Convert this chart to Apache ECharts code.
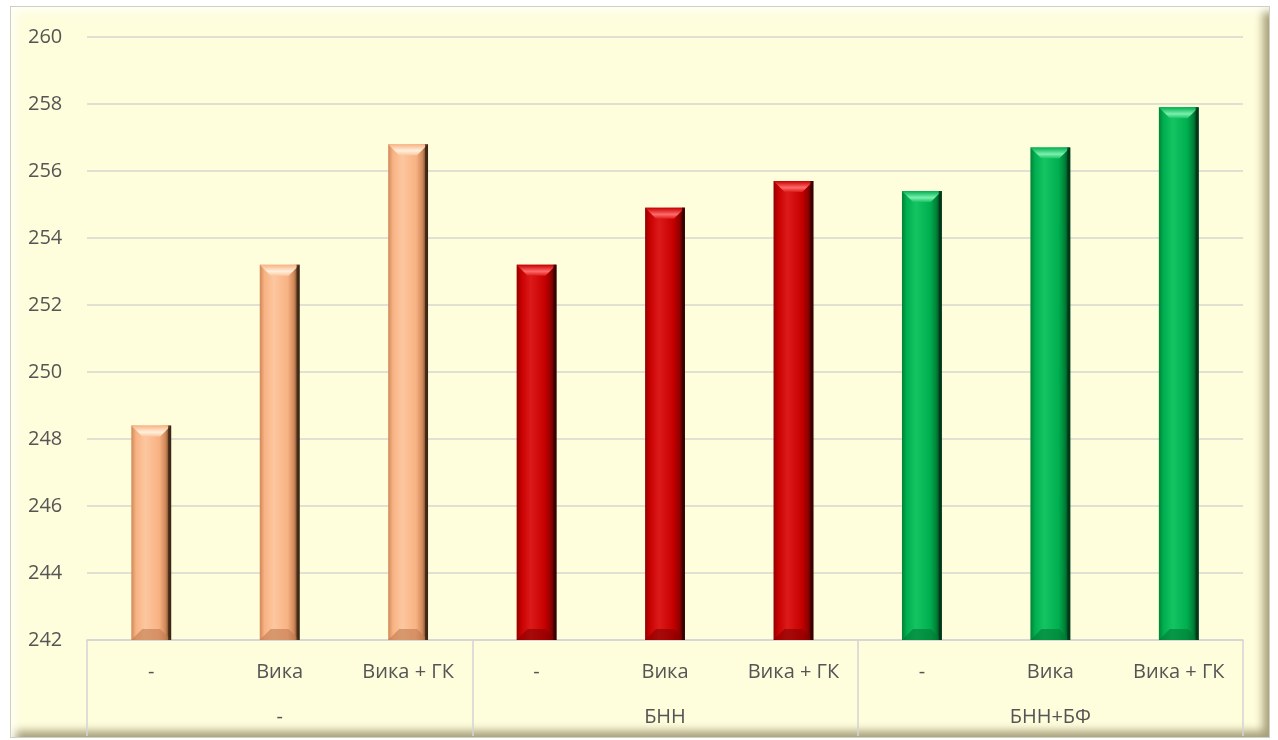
<!DOCTYPE html>
<html>
<head>
<meta charset="utf-8">
<script src="https://cdn.jsdelivr.net/npm/echarts@6/dist/echarts.min.js"></script>
<style>
  html, body { margin: 0; padding: 0; background: #ffffff; }
  #frame {
    position: absolute; left: 10px; top: 6px; width: 1260px; height: 732px;
    background: #FEFDDC; box-sizing: border-box;
    border: 1px solid #cfcfc4;
    box-shadow: inset 9px 9px 8px -4px #fffff4, inset -10px -10px 9px -4px #a89f7c;
  }
  #chart { position: absolute; left: 0; top: 0; width: 1278px; height: 740px; }
</style>
</head>
<body>
<div id="frame"></div>
<div id="chart"></div>
<script>
// Sub-treatment labels (one per bar) and group labels (one per 3 bars)
const categories = ['-', 'Вика', 'Вика + ГК', '-', 'Вика', 'Вика + ГК', '-', 'Вика', 'Вика + ГК'];
const groups = ['-', 'БНН', 'БНН+БФ'];
const values = [248.4, 253.2, 256.8, 253.2, 254.9, 255.7, 255.4, 256.7, 257.9];
const groupOf = [0, 0, 0, 1, 1, 1, 2, 2, 2];
const yTicks = { min: 242, max: 260, interval: 2 };

// Bevel palettes per group
const palettes = [
  { edgeL: '#d08858', body: '#f8b283', hi: '#fcc79f', edgeR: '#3a2414', cap: '#fff0dc', bottom: '#c07a4e' },
  { edgeL: '#920000', body: '#c80000', hi: '#dc1a1a', edgeR: '#350000', cap: '#ff6a6a', bottom: '#860000' },
  { edgeL: '#008238', body: '#00b050', hi: '#14c463', edgeR: '#003518', cap: '#7cf0ae', bottom: '#007a36' }
];

const chart = echarts.init(document.getElementById('chart'), null, { renderer: 'canvas' });

function renderBar(params, api) {
  const idx = api.value(0);
  const v = api.value(1);
  const p = palettes[groupOf[idx]];
  const top = api.coord([idx, v]);
  const base = api.coord([idx, yTicks.min]);
  const w = api.size([1, 0])[0] * 0.31;
  const x0 = top[0] - w / 2, x1 = top[0] + w / 2;
  const y0 = top[1], y1 = base[1];
  const b = Math.min(11, (y1 - y0) / 3);
  const bodyFill = new echarts.graphic.LinearGradient(0, 0, 1, 0, [
    { offset: 0, color: p.edgeL },
    { offset: 0.12, color: p.body },
    { offset: 0.35, color: p.hi },
    { offset: 0.7, color: p.body },
    { offset: 0.86, color: p.edgeL },
    { offset: 1, color: p.edgeR }
  ]);
  return {
    type: 'group',
    children: [
      { type: 'rect', shape: { x: x0, y: y0, width: w, height: y1 - y0 }, style: { fill: bodyFill } },
      {
        type: 'polygon',
        shape: { points: [[x0, y0], [x1, y0], [x1 - b, y0 + b], [x0 + b, y0 + b]] },
        style: {
          fill: new echarts.graphic.LinearGradient(0, 0, 0, 1, [
            { offset: 0, color: p.body },
            { offset: 0.6, color: p.cap },
            { offset: 1, color: p.hi }
          ])
        }
      },
      {
        type: 'polygon',
        shape: { points: [[x0, y1], [x1, y1], [x1 - b, y1 - b], [x0 + b, y1 - b]] },
        style: { fill: p.bottom, opacity: 0.6 }
      },
      {
        type: 'rect', shape: { x: x1 - 3, y: y0, width: 3, height: y1 - y0 },
        style: { fill: p.edgeR, opacity: 0.8 }
      }
    ]
  };
}

const labelFont = '"Open Sans", "DejaVu Sans", sans-serif';

chart.setOption({
  animation: false,
  grid: { left: 87, right: 35, top: 37, bottom: 100, containLabel: false },
  xAxis: [
    {
      type: 'category', data: categories, position: 'bottom',
      axisLine: { show: true, lineStyle: { color: '#d4d4d4', width: 1.5 } },
      axisTick: { show: false },
      axisLabel: { margin: 22, color: '#555555', fontSize: 20, fontFamily: labelFont, interval: 0 }
    },
    {
      type: 'category', data: groups, position: 'bottom', gridIndex: 0,
      axisLine: { show: false },
      axisTick: { show: true, length: 96, alignWithLabel: false, lineStyle: { color: '#d4d4d4', width: 1.5 } },
      axisLabel: { margin: 67, color: '#555555', fontSize: 20, fontFamily: labelFont, interval: 0 }
    }
  ],
  yAxis: {
    type: 'value', min: yTicks.min, max: yTicks.max, interval: yTicks.interval,
    axisLine: { show: false }, axisTick: { show: false },
    axisLabel: { align: 'left', margin: 59, color: '#555555', fontSize: 20, fontFamily: labelFont },
    splitLine: { lineStyle: { color: '#d6d6d0', width: 1.5 } }
  },
  series: [{
    type: 'custom',
    xAxisIndex: 0,
    renderItem: renderBar,
    encode: { x: 0, y: 1 },
    data: values.map((v, i) => [i, v])
  }]
});
</script>
</body>
</html>
